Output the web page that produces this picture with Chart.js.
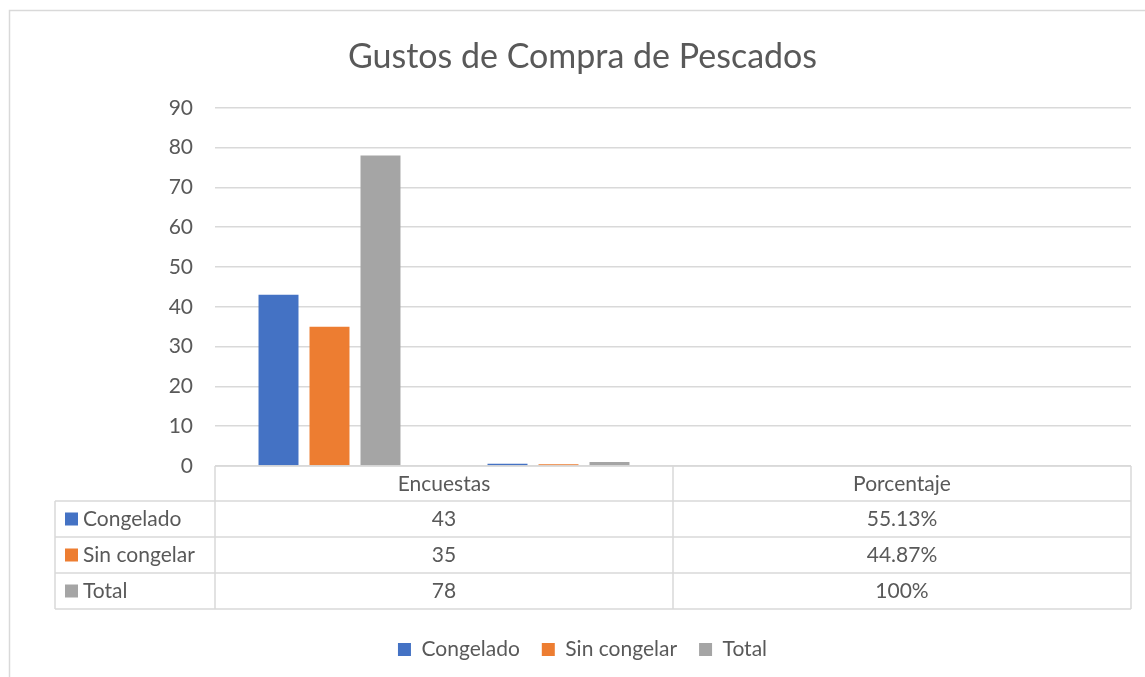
<!DOCTYPE html>
<html>
<head>
<meta charset="utf-8">
<script src="https://cdn.jsdelivr.net/npm/chart.js@4/dist/chart.umd.min.js"></script>
<style>
  html, body { margin: 0; padding: 0; background: #fff; }
  #wrap { width: 1145px; height: 677px; position: relative; }
</style>
</head>
<body>
<div id="wrap"><canvas id="chart"></canvas></div>
<script>
// Chart data
const categories = ["Encuestas", "Porcentaje"];
const seriesNames = ["Congelado", "Sin congelar", "Total"];
const congelado = [43, 0.5513];
const sinCongelar = [35, 0.4487];
const total = [78, 1];
const yTicks = [0, 10, 20, 30, 40, 50, 60, 70, 80, 90];

const colors = ["#4472C4", "#ED7D31", "#A5A5A5"];
const textColor = "#595959";
const lineColor = "#d9d9d9";
const fontFamily = "Lato, 'Open Sans', sans-serif";

// Excel left two empty slots on the category axis
const slots = [categories[0], categories[1], "", ""];
const pad = arr => [arr[0], arr[1], null, null];

// format the table cells
function cellText(catIndex, v) {
  if (catIndex === 0) return String(v);
  let s = (v * 100).toFixed(2);
  if (s.endsWith(".00")) s = s.slice(0, -3);
  return s + "%";
}

// frame around the chart + data table under the plot
const tablePlugin = {
  id: "tablePlugin",
  afterDraw(chart) {
    const ctx = chart.ctx;
    const area = chart.chartArea;
    const top = area.bottom;
    const headH = 35;
    const rowH = 36;
    const labelLeft = 55;
    const mid = (area.left + area.right) / 2;
    const cols = [[area.left, mid], [mid, area.right]];
    const seriesData = [congelado, sinCongelar, total];

    ctx.save();
    ctx.strokeStyle = lineColor;
    ctx.lineWidth = 1.5;

    // chart frame
    ctx.strokeRect(9.5, 10.5, 1200, 700);

    // header row
    ctx.beginPath();
    ctx.moveTo(area.left, top);
    ctx.lineTo(area.right, top);
    ctx.moveTo(area.left, top);
    ctx.lineTo(area.left, top + headH + rowH * 3);
    ctx.moveTo(mid, top);
    ctx.lineTo(mid, top + headH + rowH * 3);
    ctx.moveTo(area.right, top);
    ctx.lineTo(area.right, top + headH + rowH * 3);
    for (let r = 0; r <= 3; r++) {
      const y = top + headH + rowH * r;
      ctx.moveTo(labelLeft, y);
      ctx.lineTo(area.right, y);
    }
    ctx.moveTo(labelLeft, top + headH);
    ctx.lineTo(labelLeft, top + headH + rowH * 3);
    ctx.stroke();

    ctx.font = "21px " + fontFamily;
    ctx.fillStyle = textColor;
    ctx.textBaseline = "middle";
    ctx.textAlign = "center";
    categories.forEach((c, i) => {
      ctx.fillText(c, (cols[i][0] + cols[i][1]) / 2, top + headH / 2 + 1);
    });

    seriesNames.forEach((name, r) => {
      const cy = top + headH + rowH * r + rowH / 2;
      ctx.fillStyle = colors[r];
      ctx.fillRect(65, cy - 6.5, 13, 13);
      ctx.fillStyle = textColor;
      ctx.textAlign = "left";
      ctx.fillText(name, 83, cy);
      ctx.textAlign = "center";
      seriesData[r].forEach((v, i) => {
        ctx.fillText(cellText(i, v), (cols[i][0] + cols[i][1]) / 2, cy);
      });
    });
    ctx.restore();
  }
};

const ctx = document.getElementById("chart").getContext("2d");
const chart = new Chart(ctx, {
  type: "bar",
  data: {
    labels: slots,
    datasets: [
      { label: seriesNames[0], data: pad(congelado), backgroundColor: colors[0] },
      { label: seriesNames[1], data: pad(sinCongelar), backgroundColor: colors[1] },
      { label: seriesNames[2], data: pad(total), backgroundColor: colors[2] }
    ]
  },
  options: {
    responsive: true,
    maintainAspectRatio: false,
    animation: false,
    datasets: {
      bar: { categoryPercentage: 0.668, barPercentage: 0.784 }
    },
    layout: { padding: { left: 34, right: 14, top: 0, bottom: 7 } },
    scales: {
      x: {
        grid: { display: false },
        border: { display: false },
        ticks: { display: false },
        afterFit(scale) { scale.height = 151; }
      },
      y: {
        min: 0,
        max: 90,
        afterBuildTicks(scale) { scale.ticks = yTicks.map(v => ({ value: v })); },
        grid: { color: lineColor, lineWidth: 1.5, drawTicks: false },
        border: { display: false },
        ticks: { color: textColor, font: { size: 21, family: fontFamily }, padding: 22 },
        afterFit(scale) { scale.width = 181; }
      }
    },
    plugins: {
      title: {
        display: true,
        text: "Gustos de Compra de Pescados",
        color: textColor,
        font: { size: 34, family: fontFamily, weight: "normal" },
        padding: { top: 37, bottom: 30 }
      },
      legend: {
        position: "bottom",
        labels: {
          color: textColor,
          font: { size: 21, family: fontFamily },
          boxWidth: 13,
          boxHeight: 13,
          padding: 22
        }
      },
      tooltip: { enabled: false }
    }
  },
  plugins: [tablePlugin]
});
</script>
</body>
</html>
